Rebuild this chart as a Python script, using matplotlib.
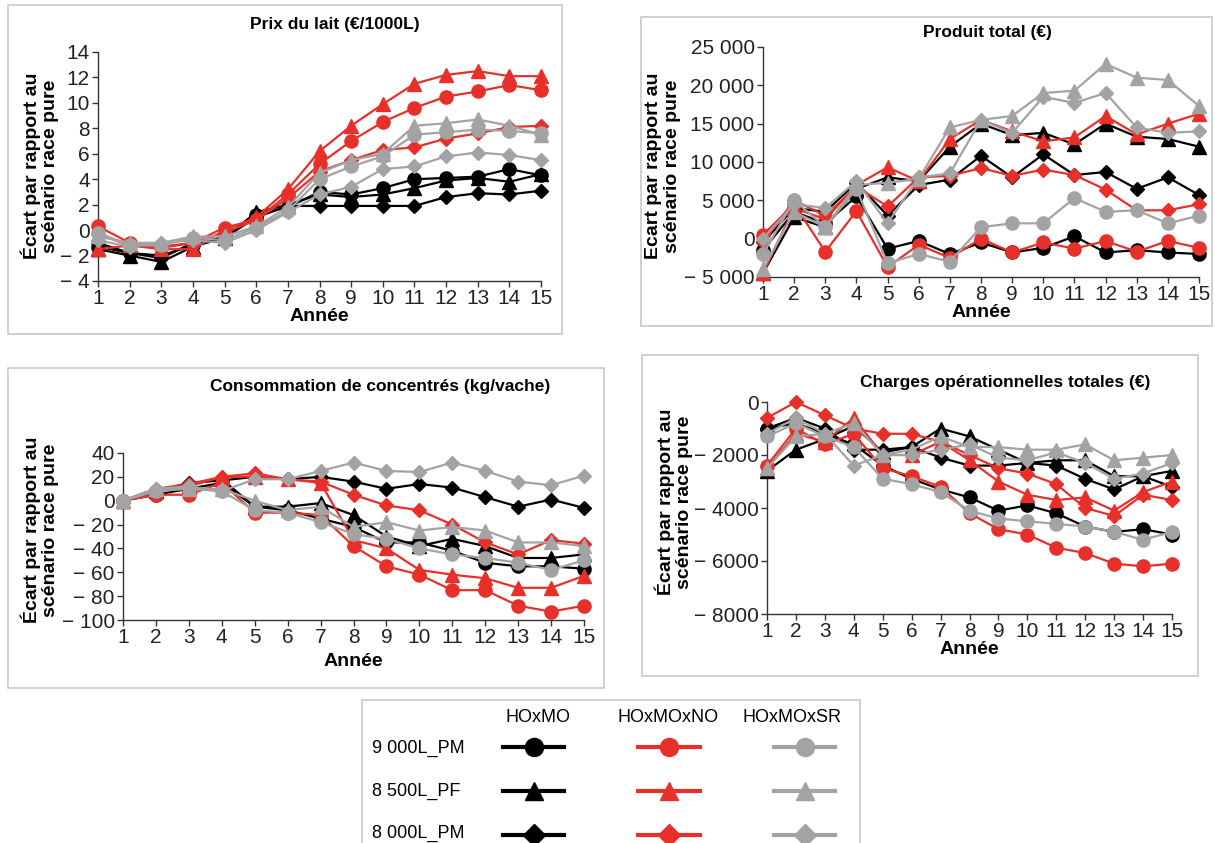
import numpy as np
import matplotlib.pyplot as plt
from matplotlib.lines import Line2D
from matplotlib.patches import Rectangle

plt.rcParams['font.family'] = ['Liberation Sans', 'DejaVu Sans']

annees = list(range(1, 16))

crois = ['HOxMO', 'HOxMOxNO', 'HOxMOxSR']
scenarios = ['9 000L_PM', '8 500L_PF', '8 000L_PM']
couleurs = {'HOxMO': '#000000', 'HOxMOxNO': '#e8302a', 'HOxMOxSR': '#a3a3a3'}
marqueurs = {'9 000L_PM': 'o', '8 500L_PF': '^', '8 000L_PM': 'D'}

# Prix du lait (€/1000L)
prix_mo_pm9 = [-1.3, -1.8, -2.0, -1.2, -0.5, 1.2, 1.8, 3.0, 2.8, 3.3, 4.0, 4.1, 4.2, 4.8, 4.3]
prix_mo_pf = [-1.5, -2.0, -2.5, -1.3, -0.6, 1.4, 2.0, 2.8, 2.6, 2.8, 3.3, 3.9, 4.1, 3.8, 4.4]
prix_mo_pm8 = [-1.0, -1.8, -2.2, -1.0, -0.6, 1.0, 1.9, 1.9, 1.9, 1.9, 1.9, 2.6, 2.9, 2.8, 3.1]
prix_no_pm9 = [0.3, -1.0, -1.3, -1.0, 0.2, 0.8, 2.8, 5.2, 7.0, 8.5, 9.6, 10.5, 10.9, 11.4, 11.0]
prix_no_pf = [-1.5, -1.2, -1.5, -1.5, 0.0, 1.0, 3.2, 6.2, 8.2, 9.9, 11.5, 12.2, 12.5, 12.1, 12.1]
prix_no_pm8 = [-0.3, -1.2, -1.4, -1.0, -0.2, 0.8, 2.5, 4.6, 5.5, 6.3, 6.5, 7.2, 7.6, 8.1, 8.2]
prix_sr_pm9 = [-0.2, -1.2, -1.2, -0.6, -0.8, 0.2, 1.5, 4.0, 5.0, 5.8, 7.5, 7.7, 7.9, 7.8, 7.6]
prix_sr_pf = [-0.5, -1.0, -1.0, -0.5, -0.5, 0.3, 1.8, 4.5, 5.5, 6.0, 8.2, 8.4, 8.7, 8.2, 7.5]
prix_sr_pm8 = [-0.8, -1.3, -1.0, -0.8, -1.0, 0.0, 1.4, 2.8, 3.4, 4.8, 5.0, 5.8, 6.1, 5.9, 5.5]

# Produit total (€)
prod_mo_pm9 = [-1500, 3500, 2000, 5500, -1300, -300, -2000, -500, -1800, -1200, 300, -1800, -1500, -1800, -2000]
prod_mo_pf = [-4500, 2800, 1500, 6500, 8000, 7500, 12000, 15000, 13500, 13800, 12300, 15000, 13300, 13000, 12000]
prod_mo_pm8 = [-500, 4000, 3500, 7300, 3000, 7000, 7700, 10800, 8000, 11000, 8300, 8700, 6500, 8000, 5700]
prod_no_pm9 = [500, 4500, -1700, 3600, -3700, -800, -2500, 0, -1800, -500, -1300, -300, -1700, -300, -1200]
prod_no_pf = [-4500, 4000, 2500, 7000, 9300, 7500, 13000, 15500, 14000, 12700, 13200, 16000, 13600, 15000, 16300]
prod_no_pm8 = [-500, 5000, 3000, 6800, 4200, 8000, 8200, 9200, 8200, 9000, 8300, 6400, 3700, 3700, 4500]
prod_sr_pm9 = [-2000, 5000, 1500, 6500, -3200, -2000, -3000, 1500, 2000, 2000, 5300, 3500, 3700, 2000, 3000]
prod_sr_pf = [-4000, 3500, 1500, 7000, 7300, 7800, 14500, 15500, 16000, 19000, 19300, 22800, 21000, 20700, 17300]
prod_sr_pm8 = [0, 4500, 4000, 7500, 2000, 8000, 8500, 15500, 13800, 18500, 17700, 19000, 14500, 13800, 14000]

# Consommation de concentrés (kg/vache)
conc_mo_pm9 = [0, 5, 10, 15, -5, -8, -15, -22, -35, -35, -42, -52, -55, -55, -57]
conc_mo_pf = [0, 8, 14, 18, -5, -5, -2, -12, -30, -38, -32, -38, -48, -48, -45]
conc_mo_pm8 = [0, 8, 15, 17, 20, 18, 20, 16, 10, 14, 11, 3, -5, 1, -6]
conc_no_pm9 = [0, 5, 5, 15, -10, -10, -12, -38, -55, -62, -75, -75, -88, -93, -88]
conc_no_pf = [0, 10, 12, 20, 20, 18, 15, -33, -40, -58, -62, -65, -73, -73, -63]
conc_no_pm8 = [0, 10, 14, 20, 23, 18, 16, 5, -4, -8, -20, -35, -45, -33, -36]
conc_sr_pm9 = [0, 8, 10, 8, -8, -10, -18, -28, -32, -40, -45, -48, -52, -58, -50]
conc_sr_pf = [0, 10, 10, 10, 0, -8, -5, -22, -18, -25, -22, -25, -35, -35, -38]
conc_sr_pm8 = [0, 10, 12, 8, 18, 18, 25, 32, 25, 24, 32, 25, 16, 13, 21]

# Charges opérationnelles totales (€)
charg_mo_pm9 = [-1000, -800, -1200, -1600, -2400, -2900, -3300, -3600, -4100, -3900, -4200, -4700, -4900, -4800, -5000]
charg_mo_pf = [-2600, -1800, -1400, -900, -1900, -1700, -1000, -1300, -1800, -2300, -2200, -2200, -2800, -2800, -2600]
charg_mo_pm8 = [-1000, -600, -1000, -1800, -1800, -1700, -2100, -2400, -2400, -2300, -2400, -2900, -3300, -2800, -3200]
charg_no_pm9 = [-2400, -1000, -1600, -1200, -2500, -2800, -3200, -4200, -4800, -5000, -5500, -5700, -6100, -6200, -6100]
charg_no_pf = [-2500, -1200, -1500, -600, -2000, -2000, -1500, -2200, -3000, -3500, -3700, -3600, -4100, -3400, -3000]
charg_no_pm8 = [-600, 0, -500, -1000, -1200, -1200, -1500, -2000, -2500, -2700, -3100, -4000, -4300, -3500, -3700]
charg_sr_pm9 = [-1300, -800, -1300, -1700, -2900, -3100, -3400, -4100, -4400, -4500, -4600, -4700, -4900, -5200, -4900]
charg_sr_pf = [-2500, -1300, -1200, -800, -2000, -1800, -1300, -1700, -1700, -1800, -1800, -1600, -2200, -2100, -2000]
charg_sr_pm8 = [-1200, -600, -1200, -2400, -2000, -2000, -1800, -1600, -2100, -2200, -1900, -2300, -2900, -2700, -2300]

prix = [[prix_mo_pm9, prix_mo_pf, prix_mo_pm8], [prix_no_pm9, prix_no_pf, prix_no_pm8], [prix_sr_pm9, prix_sr_pf, prix_sr_pm8]]
prod = [[prod_mo_pm9, prod_mo_pf, prod_mo_pm8], [prod_no_pm9, prod_no_pf, prod_no_pm8], [prod_sr_pm9, prod_sr_pf, prod_sr_pm8]]
conc = [[conc_mo_pm9, conc_mo_pf, conc_mo_pm8], [conc_no_pm9, conc_no_pf, conc_no_pm8], [conc_sr_pm9, conc_sr_pf, conc_sr_pm8]]
charg = [[charg_mo_pm9, charg_mo_pf, charg_mo_pm8], [charg_no_pm9, charg_no_pf, charg_no_pm8], [charg_sr_pm9, charg_sr_pf, charg_sr_pm8]]

W, H = 1215, 843
fig = plt.figure(figsize=(W / 100, H / 100), dpi=100)


def px(x0, y0, x1, y1):
    # boite en pixels -> fraction de figure [left, bottom, width, height]
    return [x0 / W, 1 - y1 / H, (x1 - x0) / W, (y1 - y0) / H]


def cadre(x0, y0, x1, y1):
    fig.patches.append(Rectangle((x0 / W, 1 - y1 / H), (x1 - x0) / W, (y1 - y0) / H,
                                 transform=fig.transFigure, fill=False,
                                 edgecolor='#c8c8c8', linewidth=1.2))


def etiquette(v, sep):
    n = abs(int(round(v)))
    s = f'{n:,}'.replace(',', sep) if sep else str(n)
    return '\u2212 ' + s if v < 0 else s


def panneau(box, donnees, yticks, sep, titre, tpos, ylab, lpos, xlab_pad):
    ax = fig.add_axes(px(*box))
    for i, c in enumerate(crois):
        for j, s in enumerate(scenarios):
            m = marqueurs[s]
            ax.plot(annees, donnees[i][j], color=couleurs[c], marker=m,
                    markersize=7.5 if m == 'D' else 9.5, linewidth=1.6,
                    clip_on=False, zorder=3)
    ax.set_xlim(1, 15)
    ax.set_ylim(yticks[0], yticks[-1])
    ax.set_xticks(annees)
    ax.set_yticks(yticks)
    ax.set_yticklabels([etiquette(v, sep) for v in yticks])
    for sp in ['top', 'right']:
        ax.spines[sp].set_visible(False)
    for sp in ['left', 'bottom']:
        ax.spines[sp].set_color('#333333')
        ax.spines[sp].set_linewidth(1.0)
    ax.tick_params(axis='both', labelsize=15, length=4, width=1.0, color='#333333',
                   pad=2, labelcolor='#222222')
    ax.set_xlabel('Année', fontsize=14, fontweight='bold', labelpad=xlab_pad)
    fig.text(lpos[0] / W, 1 - lpos[1] / H, ylab, rotation=90, fontsize=14,
             fontweight='bold', ha='center', va='center', linespacing=1.1,
             multialignment='center')
    fig.text(tpos[0] / W, 1 - tpos[1] / H, titre, fontsize=12.5, fontweight='bold',
             ha='center', va='center')
    return ax


ylab = 'Écart par rapport au\nscénario race pure'

cadre(8, 5, 562, 334)
panneau((98, 52, 541, 281), prix, list(range(-4, 15, 2)), None,
        'Prix du lait (€/1000L)', (335, 24), ylab, (40, 166), 0)

cadre(641, 17, 1212, 326)
panneau((763, 47, 1199, 277), prod, list(range(-5000, 25001, 5000)), ' ',
        'Produit total (€)', (987, 33), 'Ecart par rapport au\nscénario race pure', (663, 166), 0)

cadre(8, 368, 604, 688)
panneau((123, 453, 584, 620), conc, list(range(-100, 41, 20)), None,
        'Consommation de concentrés (kg/vache)', (380, 386), ylab, (40, 530), 4)

cadre(642, 355, 1198, 676)
panneau((767, 402, 1172, 614), charg, list(range(-8000, 1, 2000)), None,
        'Charges opérationnelles totales (€)', (1005, 382), ylab, (674, 502), 0)

# legende
cadre(362, 700, 860, 846)
poignees = []
for c in crois:
    for s in scenarios:
        m = marqueurs[s]
        poignees.append(Line2D([], [], color=couleurs[c], marker=m, linewidth=3,
                               markersize=11 if m == 'D' else 13))
fig.legend(poignees, [''] * 9, ncol=3, loc='upper left',
           bbox_to_anchor=(503 / W, 1 - 740 / H), frameon=False, fontsize=13,
           handlelength=3.4, handletextpad=0.0, columnspacing=4.1,
           labelspacing=1.5, borderpad=0, borderaxespad=0)

for c, x in zip(crois, [538, 668, 792]):
    fig.text(x / W, 1 - 718 / H, c, fontsize=13, ha='center', va='center')
for s, y in zip(scenarios, [748, 791, 833]):
    fig.text(372 / W, 1 - y / H, s, fontsize=13, ha='left', va='center')

fig.savefig('out.png', dpi=100)
